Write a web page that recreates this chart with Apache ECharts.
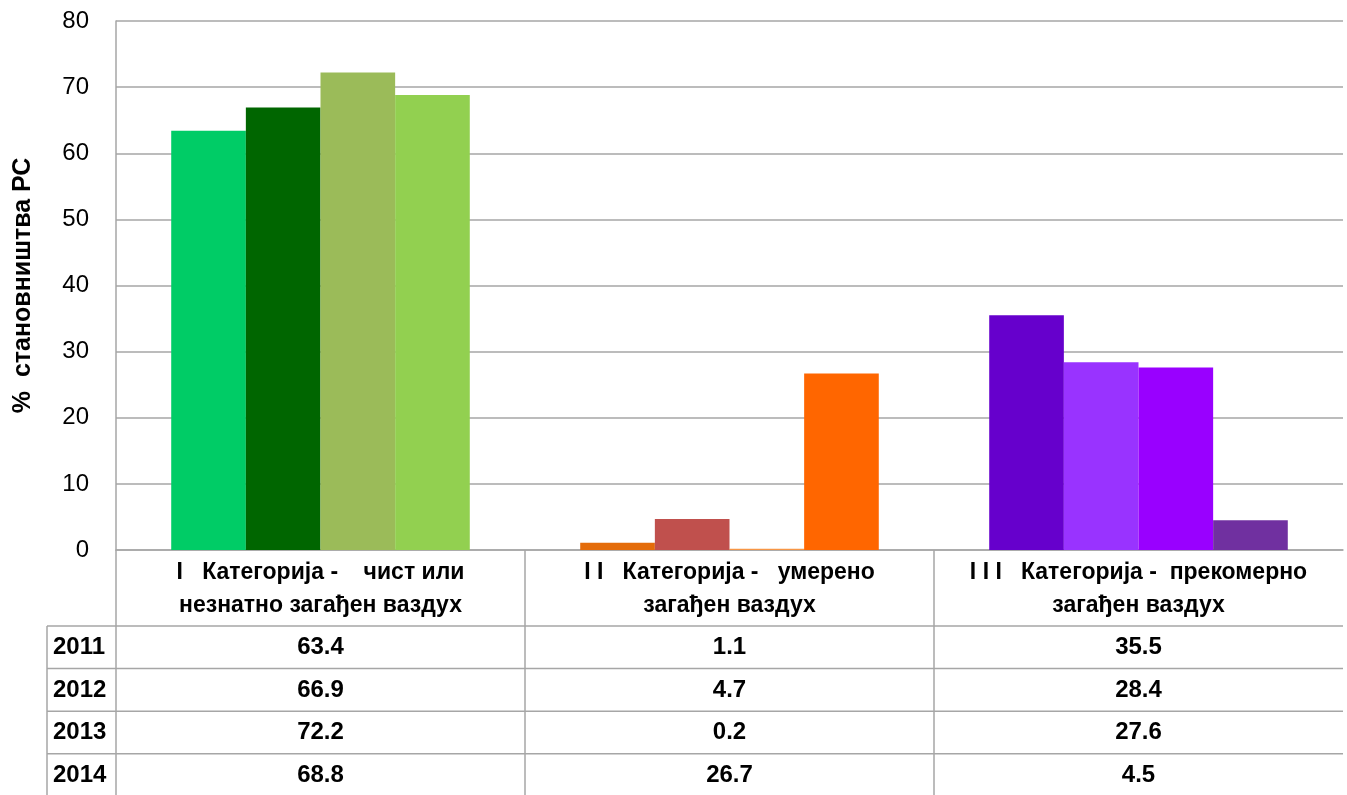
<!DOCTYPE html>
<html>
<head>
<meta charset="utf-8">
<script src="https://cdn.jsdelivr.net/npm/echarts@6/dist/echarts.min.js"></script>
<style>
html,body{margin:0;padding:0;background:#fff;}
#c{width:1347px;height:795px;}
</style>
</head>
<body>
<div id="c"></div>
<script>
const categories = [
  "I   Категорија -    чист или\nнезнатно загађен ваздух",
  "I I   Категорија -   умерено\nзагађен ваздух",
  "I I I   Категорија -  прекомерно\nзагађен ваздух"
];
const years = ["2011", "2012", "2013", "2014"];
const values2011 = [63.4, 1.1, 35.5];
const values2012 = [66.9, 4.7, 28.4];
const values2013 = [72.2, 0.2, 27.6];
const values2014 = [68.8, 26.7, 4.5];
const yearValues = [values2011, values2012, values2013, values2014];
const yAxisName = "%  становништва РС";
const yMin = 0, yMax = 80, yStep = 10;

// colours: one row per year, one entry per category
const colors2011 = ["#00CC66", "#E46C0A", "#6600CC"];
const colors2012 = ["#006600", "#C0504D", "#9933FF"];
const colors2013 = ["#9BBB59", "#F79646", "#9900FF"];
const colors2014 = ["#92D050", "#FF6600", "#7030A0"];
const yearColors = [colors2011, colors2012, colors2013, colors2014];

const FONT = "'Liberation Sans', Arial, sans-serif";
const GRID_LEFT = 116, GRID_TOP = 21, GRID_BOTTOM_Y = 550, GRID_RIGHT = 1343;
const LINE = "#A6A6A6";

const chart = echarts.init(document.getElementById('c'), null, {renderer: 'canvas'});

const series = years.map((y, si) => ({
  name: y,
  type: 'bar',
  barGap: '0%',
  barCategoryGap: '27%',
  data: yearValues[si].map((v, ci) => ({value: v, itemStyle: {color: yearColors[si][ci]}})),
  itemStyle: {borderWidth: 0},
  emphasis: {disabled: true}
}));

chart.setOption({
  animation: false,
  backgroundColor: '#fff',
  grid: {left: GRID_LEFT, top: GRID_TOP, width: GRID_RIGHT - GRID_LEFT, height: GRID_BOTTOM_Y - GRID_TOP,
         containLabel: false, outerBoundsMode: 'none'},
  xAxis: {
    type: 'category',
    data: categories,
    axisLine: {show: true, lineStyle: {color: LINE, width: 1.5}},
    axisTick: {show: false},
    axisLabel: {
      interval: 0,
      fontFamily: FONT, fontSize: 23, fontWeight: 'bold', color: '#000',
      lineHeight: 33, margin: 6
    }
  },
  yAxis: {
    type: 'value',
    min: yMin, max: yMax, interval: yStep,
    name: yAxisName,
    nameLocation: 'middle',
    nameGap: 80,
    nameRotate: 90,
    nameTextStyle: {fontFamily: FONT, fontSize: 25, fontWeight: 'bold', color: '#000'},
    axisLine: {show: true, lineStyle: {color: LINE, width: 1.5}},
    axisTick: {show: false},
    axisLabel: {fontFamily: FONT, fontSize: 24, color: '#000', margin: 27},
    splitLine: {show: true, lineStyle: {color: LINE, width: 1.5}}
  },
  series: series
});

// data table below the plot, positioned from the axes
function drawTable() {
  const centers = categories.map((c, i) => chart.convertToPixel({xAxisIndex: 0}, i));
  const band = centers.length > 1 ? centers[1] - centers[0] : 400;
  const bounds = [centers[0] - band / 2];
  centers.forEach(c => bounds.push(c + band / 2));
  const y0 = chart.convertToPixel({yAxisIndex: 0}, 0);
  const rowTop = 626, rowH = 42.6, leftX = 47;
  const g = [];
  const ls = {stroke: LINE, lineWidth: 1.5};
  for (let i = 0; i < bounds.length - 1; i++) {
    g.push({type: 'line', shape: {x1: bounds[i], y1: y0, x2: bounds[i], y2: 800}, style: ls, silent: true});
  }
  g.push({type: 'line', shape: {x1: leftX, y1: rowTop, x2: leftX, y2: 800}, style: ls, silent: true});
  for (let r = 0; r < years.length; r++) {
    const yy = rowTop + r * rowH;
    g.push({type: 'line', shape: {x1: leftX, y1: yy, x2: bounds[bounds.length - 1], y2: yy}, style: ls, silent: true});
  }
  years.forEach((yr, r) => {
    const cy = rowTop + r * rowH + rowH / 2;
    g.push({type: 'text', x: leftX + 6, y: cy, style: {text: yr, font: "bold 24px " + FONT, fill: '#000', textAlign: 'left', textVerticalAlign: 'middle'}, silent: true});
    yearValues[r].forEach((v, ci) => {
      g.push({type: 'text', x: centers[ci], y: cy, style: {text: v.toFixed(1), font: "bold 24px " + FONT, fill: '#000', textAlign: 'center', textVerticalAlign: 'middle'}, silent: true});
    });
  });
  chart.setOption({graphic: g});
}
drawTable();
</script>
</body>
</html>
